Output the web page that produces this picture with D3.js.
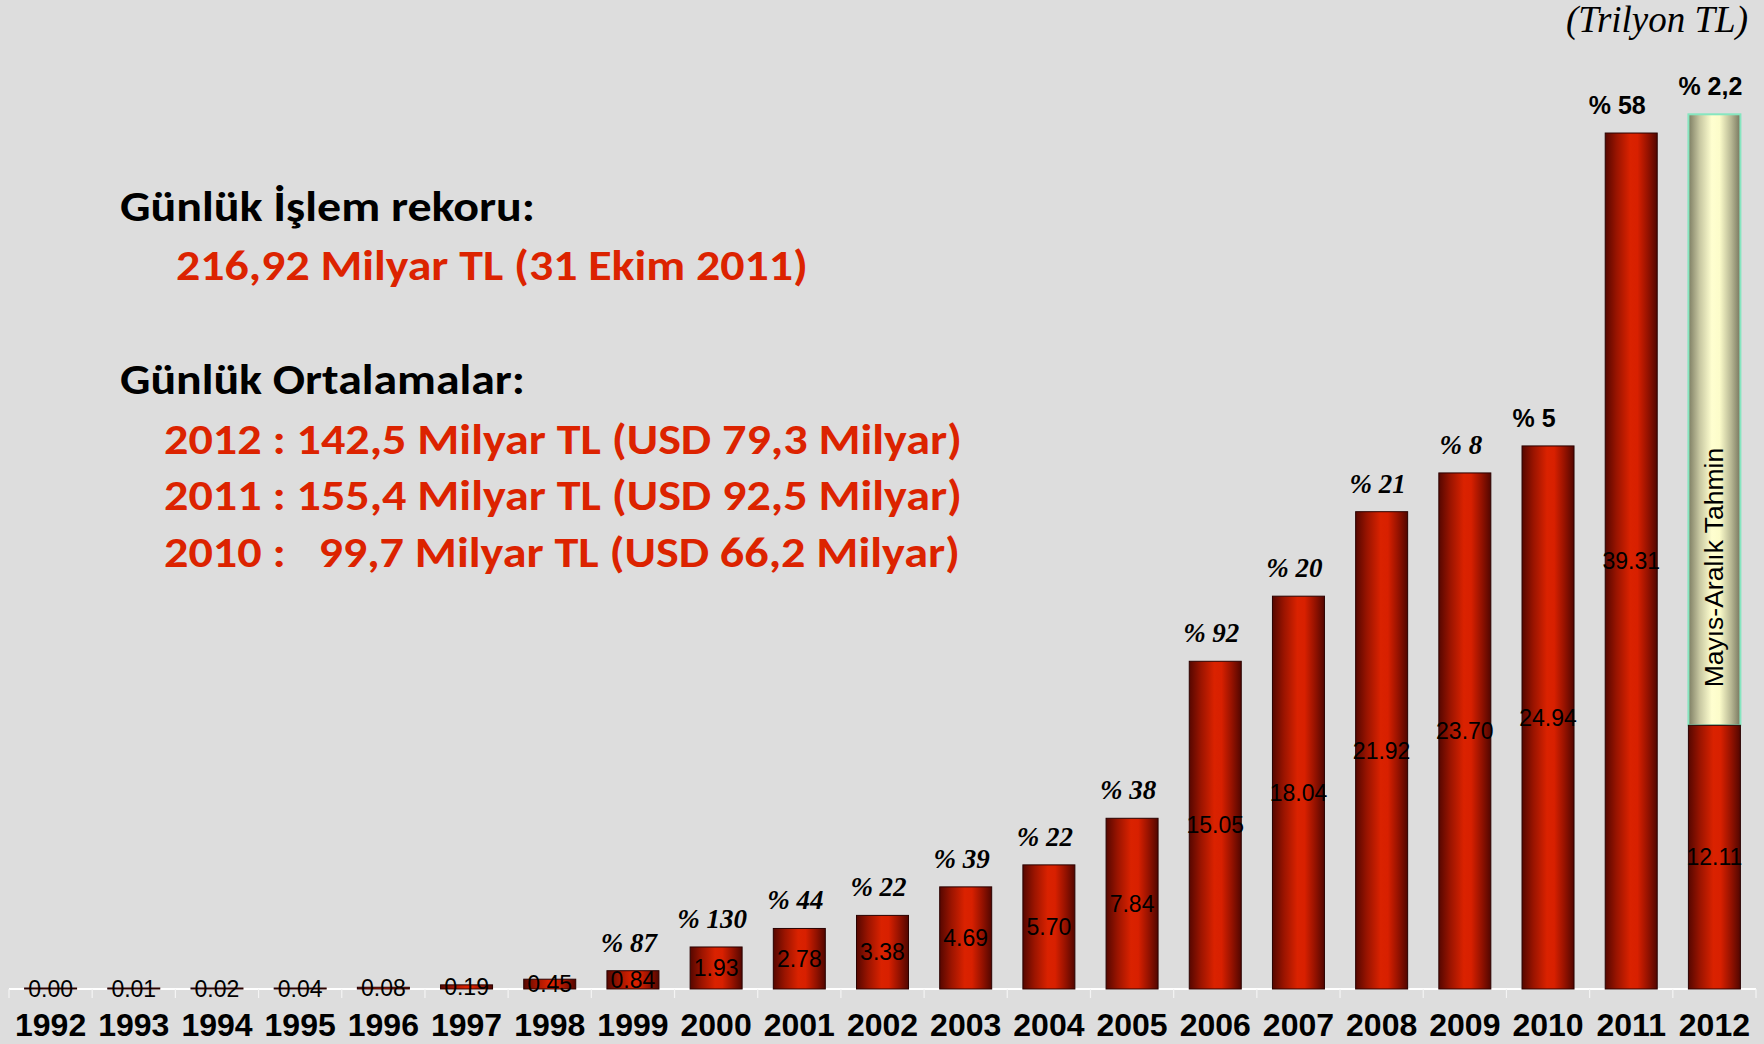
<!DOCTYPE html>
<html>
<head>
<meta charset="utf-8">
<script src="https://cdn.jsdelivr.net/npm/d3@7"></script>
<style>
  html, body { margin: 0; padding: 0; background: #dddddd; }
  svg { display: block; }
</style>
</head>
<body>
<svg id="chart" width="1764" height="1044"></svg>
<script>
// ---- data ----
const years = ["1992","1993","1994","1995","1996","1997","1998","1999","2000","2001","2002","2003","2004","2005","2006","2007","2008","2009","2010","2011","2012"];
const volumes = [0.00, 0.01, 0.02, 0.04, 0.08, 0.19, 0.45, 0.84, 1.93, 2.78, 3.38, 4.69, 5.70, 7.84, 15.05, 18.04, 21.92, 23.70, 24.94, 39.31, 12.11];
const growthLabels = [null, null, null, null, null, null, null, "% 87", "% 130", "% 44", "% 22", "% 39", "% 22", "% 38", "% 92", "% 20", "% 21", "% 8", "% 5", "% 58", "% 2,2"];
const forecastYear = "2012";
const forecastRest = 28.06;          // Mayıs-Aralık tahmin (12.11 + 28.06 ≈ 40.17)
const forecastLabel = "Mayıs-Aralık Tahmin";
const unitLabel = "(Trilyon TL)";
const notesBlack = ["Günlük İşlem rekoru:", "Günlük Ortalamalar:"];
const notesRed = ["216,92 Milyar TL (31 Ekim 2011)",
                  "2012 : 142,5 Milyar TL (USD 79,3 Milyar)",
                  "2011 : 155,4 Milyar TL (USD 92,5 Milyar)",
                  "2010 :   99,7 Milyar TL (USD 66,2 Milyar)"];

// ---- layout ----
const svg = d3.select("#chart");
const baseY = 989;
const x = d3.scaleBand().domain(years).range([9, 1756]).paddingInner(0.375).paddingOuter(0.1875);
const y = d3.scaleLinear().domain([0, 40]).range([baseY, 118]);

const defs = svg.append("defs");
const gRed = defs.append("linearGradient").attr("id", "gRed").attr("x1", "0").attr("x2", "1").attr("y1", "0").attr("y2", "0");
[["0%", "#560700"], ["22%", "#9a1400"], ["48%", "#da2200"], ["62%", "#d82000"], ["82%", "#951200"], ["100%", "#520600"]]
  .forEach(([o, c]) => gRed.append("stop").attr("offset", o).attr("stop-color", c));
const gYel = defs.append("linearGradient").attr("id", "gYel").attr("x1", "0").attr("x2", "1").attr("y1", "0").attr("y2", "0");
[["0%", "#7c7c62"], ["22%", "#c8c8a2"], ["45%", "#ffffd0"], ["60%", "#fcfcca"], ["82%", "#b8b894"], ["100%", "#76765e"]]
  .forEach(([o, c]) => gYel.append("stop").attr("offset", o).attr("stop-color", c));

svg.append("rect").attr("width", 1764).attr("height", 1044).attr("fill", "#dddddd");

// axis line + boundary ticks
const step = x.step();
const x0 = x.range()[0];
svg.append("line").attr("x1", x0).attr("x2", x.range()[1]).attr("y1", baseY).attr("y2", baseY)
  .attr("stroke", "#ffffff").attr("stroke-width", 2);
svg.selectAll("line.tick").data(d3.range(years.length + 1)).join("line").attr("class", "tick")
  .attr("x1", i => x0 + i * step).attr("x2", i => x0 + i * step)
  .attr("y1", baseY).attr("y2", baseY + 9)
  .attr("stroke", "#f4f4f4").attr("stroke-width", 1.2);

// forecast segment (stacked on 2012)
const fIdx = years.indexOf(forecastYear);
svg.append("rect")
  .attr("x", x(forecastYear)).attr("width", x.bandwidth())
  .attr("y", y(volumes[fIdx] + forecastRest))
  .attr("height", y(volumes[fIdx]) - y(volumes[fIdx] + forecastRest))
  .attr("fill", "url(#gYel)").attr("stroke", "#86e6c0").attr("stroke-width", 2);

// bars
svg.selectAll("rect.bar").data(years).join("rect").attr("class", "bar")
  .attr("x", d => x(d)).attr("width", x.bandwidth())
  .attr("y", (d, i) => Math.min(y(volumes[i]), baseY - 1))
  .attr("height", (d, i) => Math.max(1, baseY - y(volumes[i])))
  .attr("fill", "url(#gRed)").attr("stroke", "#2a0200").attr("stroke-width", 1);

// value labels
svg.selectAll("text.val").data(years).join("text").attr("class", "val")
  .attr("x", d => x(d) + x.bandwidth() / 2)
  .attr("y", (d, i) => (baseY + y(volumes[i])) / 2)
  .attr("dy", "0.36em")
  .attr("text-anchor", "middle")
  .attr("font-family", "'Liberation Sans', Arial, sans-serif")
  .attr("font-size", 23).attr("fill", "#000")
  .text((d, i) => volumes[i].toFixed(2));

// forecast text
const fx = x(forecastYear) + x.bandwidth() / 2 + 9;
const fy = y(volumes[fIdx]) - 38;
svg.append("text")
  .attr("transform", `translate(${fx},${fy}) rotate(-90)`)
  .attr("font-family", "'Liberation Sans', Arial, sans-serif")
  .attr("font-size", 26.5).attr("fill", "#000")
  .text(forecastLabel);

// growth labels
const growth = years.map((yr, i) => ({
  yr, label: growthLabels[i],
  top: yr === forecastYear ? volumes[i] + forecastRest : volumes[i]
})).filter(d => d.label !== null);

svg.selectAll("text.gr").data(growth).join("text").attr("class", "gr")
  .attr("x", d => x(d.yr) + x.bandwidth() / 2 - (+d.yr >= 2010 && +d.yr < 2012 ? 14 : 4))
  .attr("y", d => y(d.top) - 19)
  .attr("text-anchor", "middle")
  .attr("font-family", d => +d.yr >= 2010 ? "'Liberation Sans', Arial, sans-serif" : "'Liberation Serif', 'Times New Roman', serif")
  .attr("font-style", d => +d.yr >= 2010 ? "normal" : "italic")
  .attr("font-weight", "bold")
  .attr("font-size", d => +d.yr >= 2010 ? 25 : 27)
  .attr("fill", "#000")
  .text(d => d.label);

// year labels
svg.selectAll("text.yr").data(years).join("text").attr("class", "yr")
  .attr("x", d => x(d) + x.bandwidth() / 2)
  .attr("y", 1036)
  .attr("text-anchor", "middle")
  .attr("font-family", "'Liberation Sans', Arial, sans-serif")
  .attr("font-weight", "bold").attr("font-size", 32).attr("fill", "#000")
  .text(d => d);

// unit label
svg.append("text").attr("x", 1748).attr("y", 32).attr("text-anchor", "end")
  .attr("font-family", "'Liberation Serif', 'Times New Roman', serif")
  .attr("font-style", "italic").attr("font-size", 37).attr("fill", "#000")
  .text(unitLabel);

// annotation block
const noteFont = "Carlito, Lato, 'Open Sans', sans-serif";
const noteRows = [
  { t: notesBlack[0], c: "#000", x: 120, y: 221, w: 415 },
  { t: notesRed[0], c: "#dc2300", x: 176, y: 280, w: 632 },
  { t: notesBlack[1], c: "#000", x: 120, y: 394, w: 405 },
  { t: notesRed[1], c: "#dc2300", x: 164, y: 454, w: 798 },
  { t: notesRed[2], c: "#dc2300", x: 164, y: 510, w: 798 },
  { t: notesRed[3], c: "#dc2300", x: 164, y: 567, w: 796 }
];
svg.selectAll("text.note").data(noteRows).join("text").attr("class", "note")
  .attr("x", d => d.x).attr("y", d => d.y)
  .attr("font-family", noteFont).attr("font-weight", "bold").attr("font-size", 42)
  .attr("fill", d => d.c)
  .attr("textLength", d => d.w).attr("lengthAdjust", "spacingAndGlyphs")
  .style("white-space", "pre")
  .text(d => d.t);
</script>
</body>
</html>
